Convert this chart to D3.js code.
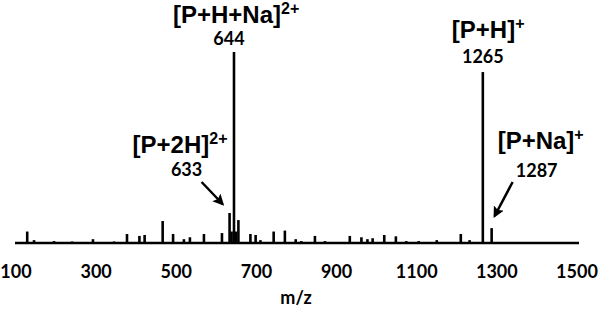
<!DOCTYPE html>
<html lang="en">
<head>
  <title>Mass spectrum</title>
  <script src="https://d3js.org/d3.v7.min.js"></script>
  <style>
    body { margin: 0; background: #fff; }
    text { font-family: Lato, "Open Sans", sans-serif; font-weight: bold; fill: #000; }
    text.ion { font-family: "Liberation Sans", Arial, sans-serif; }
  </style>
</head>
<body>
  <div id="chart"></div>
  <script>
    // peak positions (m/z) and relative intensity (%)
    const mz = [128, 145, 195, 240, 292, 345, 377, 408, 421, 466, 492, 519, 534, 569,
                614, 633, 638, 644, 649, 655, 685, 698, 710, 743, 771, 798, 812, 846, 871,
                933, 962, 977, 990, 1019, 1048, 1074, 1105, 1150, 1210, 1232, 1265, 1287,
                1314, 1424];
    const intensity = [6, 1.5, 1, 0.8, 2, 0.8, 4.7, 3.7, 4.2, 11.5, 4.7, 2, 3, 4.7,
                       5.2, 15.7, 6, 100, 6, 12, 4.7, 4.2, 1.5, 6, 6.5, 2, 1, 3.7, 1,
                       3.7, 3, 2, 2.5, 4.2, 3.5, 1, 1, 1.5, 4.7, 1.5, 89.5, 7.8,
                       0.5, 0.5];
    const xTicks = [100, 300, 500, 700, 900, 1100, 1300, 1500];

    // annotations: ion label, superscript, m/z value shown
    const ionLabels = ["[P+H+Na]", "[P+2H]", "[P+H]", "[P+Na]"];
    const ionCharge = ["2+", "2+", "+", "+"];
    const ionMz = [644, 633, 1265, 1287];

    const width = 600, height = 313;

    const svg = d3.select("#chart")
      .append("svg")
        .attr("width", width)
        .attr("height", height);

    const x = d3.scaleLinear().domain([100, 1500]).range([16, 577]);
    const y = d3.scaleLinear().domain([0, 100]).range([243, 52]);

    // arrow head
    svg.append("defs").append("marker")
        .attr("id", "head")
        .attr("viewBox", "0 0 10 10")
        .attr("refX", 8).attr("refY", 5)
        .attr("markerWidth", 4.5).attr("markerHeight", 4.5)
        .attr("orient", "auto")
      .append("path")
        .attr("d", "M0,0 L10,5 L0,10 L2,5 z")
        .attr("fill", "#000");

    // baseline
    svg.append("line")
      .attr("x1", x(100) - 1).attr("x2", x(1500) + 2)
      .attr("y1", y(0)).attr("y2", y(0))
      .attr("stroke", "#000")
      .attr("stroke-width", 2.5);

    // peaks
    svg.append("g")
      .selectAll("line")
      .data(mz)
      .join("line")
        .attr("x1", d => x(d)).attr("x2", d => x(d))
        .attr("y1", y(0))
        .attr("y2", (d, i) => y(intensity[i]))
        .attr("stroke", "#000")
        .attr("stroke-width", 2.6);

    // x tick labels (no tick marks)
    svg.append("g")
      .selectAll("text")
      .data(xTicks)
      .join("text")
        .attr("x", d => x(d))
        .attr("y", 278)
        .attr("text-anchor", "middle")
        .style("font-size", "18px")
        .text(d => d);

    svg.append("text")
      .attr("x", 296)
      .attr("y", 304)
      .attr("text-anchor", "middle")
      .style("font-size", "18px")
      .text("m/z");

    // label placements relative to each peak
    const labelPos = [
      {lx: x(644) - 61, ly: 23, nx: x(644) - 5, ny: 45},
      {lx: x(633) - 97, ly: 153, nx: x(633) - 43, ny: 176},
      {lx: x(1265) - 31, ly: 38, nx: x(1265), ny: 63},
      {lx: x(1287) + 6, ly: 149, nx: x(1287) + 45, ny: 177}
    ];

    ionLabels.forEach((lab, i) => {
      const p = labelPos[i];
      const t = svg.append("text")
        .attr("class", "ion")
        .attr("x", p.lx).attr("y", p.ly)
        .style("font-size", "24px");
      t.append("tspan").text(lab);
      t.append("tspan")
        .attr("dy", -9)
        .style("font-size", "16px")
        .text(ionCharge[i]);
      svg.append("text")
        .attr("x", p.nx).attr("y", p.ny)
        .attr("text-anchor", "middle")
        .style("font-size", "18px")
        .text(ionMz[i]);
    });

    // arrows to the small peaks
    svg.append("line")
      .attr("x1", x(633) - 28).attr("y1", 182)
      .attr("x2", x(633) - 7).attr("y2", 204)
      .attr("stroke", "#000").attr("stroke-width", 2.5)
      .attr("marker-end", "url(#head)");
    svg.append("line")
      .attr("x1", x(1287) + 21).attr("y1", 182)
      .attr("x2", x(1287) + 3).attr("y2", 216)
      .attr("stroke", "#000").attr("stroke-width", 2.5)
      .attr("marker-end", "url(#head)");
  </script>
</body>
</html>
